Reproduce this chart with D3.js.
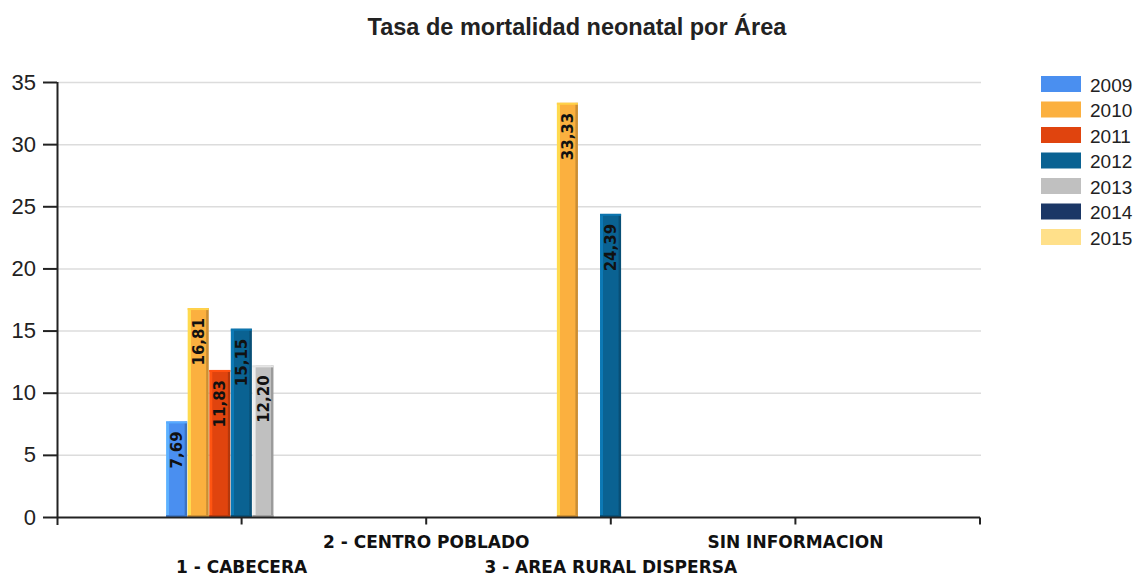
<!DOCTYPE html>
<html>
<head>
<meta charset="utf-8">
<script src="https://cdn.jsdelivr.net/npm/d3@7"></script>
<style>
  body { margin: 0; background: #fff; }
  svg { display: block; }
</style>
</head>
<body>
<svg id="chart" width="1136" height="576"></svg>
<script>
// Neonatal mortality rate by area, one bar per year
const categories = ["1 - CABECERA", "2 - CENTRO POBLADO", "3 - AREA RURAL DISPERSA", "SIN INFORMACION"];
const years = ["2009", "2010", "2011", "2012", "2013", "2014", "2015"];
const v2009 = [7.69, null, null, null];
const v2010 = [16.81, null, 33.33, null];
const v2011 = [11.83, null, null, null];
const v2012 = [15.15, null, 24.39, null];
const v2013 = [12.20, null, null, null];
const v2014 = [null, null, null, null];
const v2015 = [null, null, null, null];
const seriesValues = [v2009, v2010, v2011, v2012, v2013, v2014, v2015];
const yTicks = [0, 5, 10, 15, 20, 25, 30, 35];
const colors = ["#4a8ff0", "#fbb03f", "#e0440e", "#0a6292", "#c0c0c0", "#1b3766", "#ffe08a"];

const svg = d3.select("#chart");
const plotLeft = 57, plotRight = 980, plotTop = 82, plotBottom = 517;

const x = d3.scalePoint().domain(categories).range([plotLeft, plotRight]).padding(1);
const barGroup = d3.scaleBand().domain(years).range([-75.5, 75.5]).padding(0);
const y = d3.scaleLinear().domain([0, 35]).range([plotBottom, plotTop]);

// Title
svg.append("text")
  .attr("x", 577).attr("y", 35)
  .attr("text-anchor", "middle")
  .attr("font-family", "Liberation Sans, Arial, sans-serif")
  .attr("font-weight", "bold").attr("font-size", 23.5)
  .attr("fill", "#222")
  .text("Tasa de mortalidad neonatal por Área");

// Gridlines
svg.append("g").selectAll("line").data(yTicks.slice(1)).join("line")
  .attr("x1", plotLeft).attr("x2", plotRight + 1)
  .attr("y1", d => y(d) + 0.5).attr("y2", d => y(d) + 0.5)
  .attr("stroke", "#dcdcdc").attr("stroke-width", 1.5);

// Bevel gradients per series colour
const defs = svg.append("defs");
colors.forEach((c, i) => {
  const base = d3.color(c);
  const g = defs.append("linearGradient").attr("id", "bev" + i)
    .attr("x1", "0").attr("x2", "1").attr("y1", "0").attr("y2", "0");
  g.append("stop").attr("offset", "0").attr("stop-color", base.brighter(0.6));
  g.append("stop").attr("offset", "0.14").attr("stop-color", base.brighter(0.6));
  g.append("stop").attr("offset", "0.16").attr("stop-color", base);
  g.append("stop").attr("offset", "0.86").attr("stop-color", base);
  g.append("stop").attr("offset", "0.9").attr("stop-color", base.darker(0.6));
  g.append("stop").attr("offset", "1").attr("stop-color", base.darker(0.6));
});

// Bars
const bw = barGroup.bandwidth();
const barData = [];
seriesValues.forEach((vals, si) => {
  vals.forEach((v, ci) => {
    if (v != null && v > 0) barData.push({ si, ci, v });
  });
});

const bars = svg.append("g").selectAll("g").data(barData).join("g")
  .attr("transform", d => `translate(${x(categories[d.ci]) + barGroup(years[d.si])},0)`);

bars.append("rect")
  .attr("x", 0).attr("width", bw - 0.5)
  .attr("y", d => y(d.v)).attr("height", d => plotBottom - y(d.v))
  .attr("fill", d => `url(#bev${d.si})`);
// light top cap
bars.append("rect")
  .attr("x", 0).attr("width", bw - 0.5)
  .attr("y", d => y(d.v)).attr("height", 2)
  .attr("fill", d => d3.color(colors[d.si]).brighter(0.5));
// dark base
bars.append("rect")
  .attr("x", 0).attr("width", bw - 0.5)
  .attr("y", plotBottom - 2).attr("height", 2)
  .attr("fill", d => d3.color(colors[d.si]).darker(0.5));

// Value labels, reading bottom-to-top inside the bars
const fmt = v => v.toFixed(2).replace(".", ",");
bars.append("text")
  .attr("transform", d => `translate(${bw / 2},${y(d.v) + 10}) rotate(-90)`)
  .attr("text-anchor", "end")
  .attr("dy", "0.36em")
  .attr("font-family", "DejaVu Sans, Verdana, sans-serif")
  .attr("font-weight", "bold").attr("font-size", 15)
  .attr("fill", "#111")
  .text(d => fmt(d.v));

// Y axis
const yAxis = svg.append("g").attr("transform", `translate(${plotLeft},0)`)
  .call(d3.axisLeft(y).tickValues(yTicks).tickSize(14).tickPadding(7).tickFormat(d3.format("d")));
yAxis.select(".domain").attr("d", `M0.5,${plotTop}V${plotBottom + 8}`).attr("stroke", "#222").attr("stroke-width", 2);
yAxis.selectAll(".tick line").attr("stroke", "#222").attr("stroke-width", 2);
yAxis.selectAll(".tick text")
  .attr("font-family", "Liberation Sans, Arial, sans-serif")
  .attr("font-size", 22).attr("fill", "#222");

// X axis
const xAxis = svg.append("g").attr("transform", `translate(0,${plotBottom + 0.5})`);
xAxis.append("line").attr("x1", plotLeft).attr("x2", plotRight)
  .attr("stroke", "#222").attr("stroke-width", 2);
const tickPos = categories.map(c => x(c)).concat([plotRight]);
xAxis.selectAll("line.tk").data(tickPos).join("line").attr("class", "tk")
  .attr("x1", d => d).attr("x2", d => d).attr("y1", 0).attr("y2", 7)
  .attr("stroke", "#222").attr("stroke-width", 2);
xAxis.selectAll("text").data(categories).join("text")
  .attr("x", d => x(d))
  .attr("y", (d, i) => i % 2 === 0 ? 55 : 30)
  .attr("text-anchor", "middle")
  .attr("font-family", "DejaVu Sans, Verdana, sans-serif")
  .attr("font-weight", "bold").attr("font-size", 17)
  .attr("fill", "#111")
  .text(d => d);

// Legend
const legend = svg.append("g").attr("transform", "translate(1041,76)");
const li = legend.selectAll("g").data(years).join("g")
  .attr("transform", (d, i) => `translate(0,${i * 25.5})`);
li.append("rect").attr("width", 40).attr("height", 16)
  .attr("fill", (d, i) => colors[i]);
li.append("text").attr("x", 49).attr("y", 15.5)
  .attr("font-family", "Liberation Sans, Arial, sans-serif")
  .attr("font-size", 19).attr("fill", "#222")
  .text(d => d);
</script>
</body>
</html>
